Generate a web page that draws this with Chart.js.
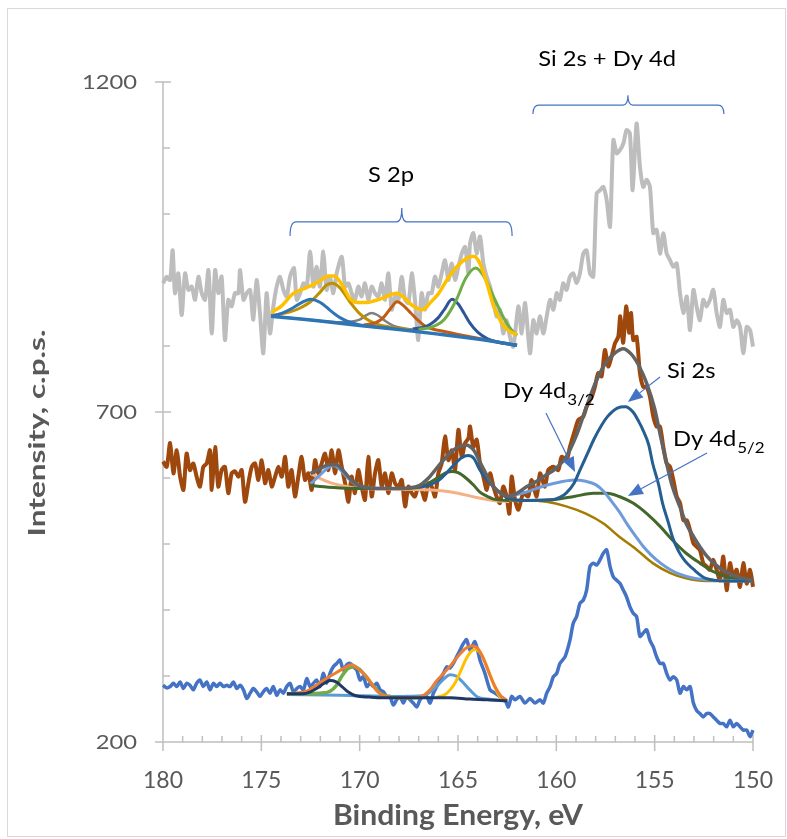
<!DOCTYPE html>
<html>
<head>
<meta charset="utf-8">
<script src="https://cdn.jsdelivr.net/npm/chart.js@4.4.0/dist/chart.umd.min.js"></script>
<style>
  html, body { margin: 0; padding: 0; background: #fff; }
  canvas { display: block; }
</style>
</head>
<body>
<canvas id="xps" width="787" height="839"></canvas>
<script>
// axis ticks
const energyTicks = [180, 175, 170, 165, 160, 155, 150];
const intensityTicks = [200, 700, 1200];

// measured spectra: [binding energy eV, intensity c.p.s.]
const greySpectrum = [
  [180.00,895],[179.81,905],[179.64,900],[179.51,945],[179.39,880],[179.22,910],[179.05,847],[178.88,910],
  [178.71,885],[178.54,890],[178.37,870],[178.20,905],[178.03,880],[177.86,870],[177.69,915],[177.52,819],
  [177.35,915],[177.19,880],[177.02,905],[176.85,809],[176.68,870],[176.51,860],[176.34,880],[176.17,880],
  [176.08,915],[175.91,870],[175.74,880],[175.57,885],[175.41,840],[175.24,900],[175.07,850],[174.90,789],
  [174.73,880],[174.56,819],[174.39,860],[174.22,890],[174.05,905],[173.88,885],[173.71,875],[173.54,905],
  [173.34,918],[173.20,870],[173.03,880],[172.86,895],[172.69,890],[172.52,943],[172.35,890],[172.19,920],
  [172.02,890],[171.85,943],[171.68,885],[171.51,905],[171.34,880],[171.17,910],[170.91,935],[170.74,890],
  [170.57,895],[170.41,880],[170.24,870],[170.07,890],[169.90,875],[169.73,895],[169.56,870],[169.39,890],
  [169.22,880],[169.05,875],[168.88,895],[168.71,870],[168.54,910],[168.37,855],[168.20,875],[168.03,870],
  [167.86,905],[167.69,870],[167.52,865],[167.35,910],[167.19,870],[167.02,809],[166.85,880],[166.68,855],
  [166.51,880],[166.34,880],[166.17,905],[166.00,890],[165.83,910],[165.66,930],[165.49,900],[165.32,925],
  [165.15,900],[164.98,920],[164.81,940],[164.64,950],[164.47,910],[164.39,955],[164.22,971],[164.05,940],
  [163.88,966],[163.71,925],[163.54,905],[163.37,890],[163.20,870],[163.04,845],[162.87,855],[162.70,819],
  [162.53,839],[162.36,814],[162.19,799],[161.93,860],[161.76,819],[161.59,865],[161.34,789],[161.17,839],
  [161.00,819],[160.83,845],[160.66,819],[160.49,845],[160.32,870],[160.15,855],[159.98,880],[159.82,870],
  [159.65,895],[159.48,885],[159.31,905],[159.14,910],[158.97,895],[158.80,910],[158.63,940],[158.46,945],
  [158.29,910],[158.12,905],[157.95,1031],[157.78,1036],[157.61,1041],[157.44,1021],[157.27,981],[157.10,1112],
  [156.93,1092],[156.76,1097],[156.59,1107],[156.43,1127],[156.26,1122],[156.12,1036],[155.92,1137],[155.75,1072],
  [155.58,1041],[155.41,1052],[155.24,1041],[155.07,971],[154.90,976],[154.73,940],[154.56,971],[154.39,940],
  [154.22,930],[154.05,920],[153.88,925],[153.71,880],[153.54,850],[153.37,875],[153.20,824],[153.03,885],
  [152.87,860],[152.70,839],[152.53,870],[152.36,860],[152.19,870],[152.02,885],[151.85,850],[151.68,829],
  [151.51,870],[151.34,850],[151.17,855],[151.00,829],[150.83,839],[150.66,829],[150.49,789],[150.32,829],
  [150.15,824],[150.00,799]
];

const brownSpectrum = [
  [180.00,625],[179.81,617],[179.64,653],[179.47,607],[179.30,642],[179.13,602],[178.96,582],[178.80,637],
  [178.63,612],[178.46,622],[178.29,602],[178.12,587],[177.95,617],[177.78,622],[177.61,642],[177.52,582],
  [177.35,647],[177.19,587],[177.02,612],[176.85,617],[176.68,577],[176.51,607],[176.34,610],[176.17,602],
  [176.00,612],[175.83,564],[175.66,592],[175.49,617],[175.32,622],[175.15,597],[174.98,627],[174.81,592],
  [174.64,612],[174.47,587],[174.30,602],[174.13,617],[173.96,602],[173.79,632],[173.63,587],[173.46,612],
  [173.29,572],[173.12,602],[172.95,632],[172.78,597],[172.61,607],[172.44,582],[172.27,627],[172.10,607],
  [171.93,622],[171.76,637],[171.59,612],[171.42,642],[171.25,607],[171.08,642],[170.91,617],[170.74,592],
  [170.57,564],[170.41,602],[170.24,577],[170.07,612],[169.90,587],[169.73,567],[169.56,632],[169.39,572],
  [169.22,607],[169.05,627],[168.88,587],[168.71,607],[168.54,577],[168.37,607],[168.20,592],[168.03,587],
  [167.86,597],[167.69,557],[167.52,587],[167.35,577],[167.19,572],[167.02,587],[166.85,582],[166.68,567],
  [166.51,592],[166.34,587],[166.17,572],[166.00,607],[165.83,622],[165.66,663],[165.49,627],[165.32,642],
  [165.15,612],[164.98,673],[164.81,632],[164.64,653],[164.47,660],[164.39,678],[164.22,647],[164.05,658],
  [163.88,622],[163.71,602],[163.54,582],[163.37,607],[163.20,587],[163.04,572],[162.87,562],[162.70,587],
  [162.53,572],[162.39,546],[162.27,602],[162.10,567],[161.93,552],[161.68,577],[161.43,572],[161.26,597],
  [161.00,572],[160.83,607],[160.58,587],[160.41,612],[160.15,617],[159.90,612],[159.73,632],[159.48,627],
  [159.31,647],[159.05,673],[158.88,688],[158.63,693],[158.46,708],[158.20,723],[158.04,738],[157.87,759],
  [157.70,754],[157.53,794],[157.36,769],[157.19,784],[157.02,804],[156.85,814],[156.75,845],[156.60,805],
  [156.45,860],[156.30,820],[156.20,850],[156.09,809],[155.92,814],[155.75,759],[155.58,738],[155.41,738],
  [155.24,723],[155.07,693],[154.90,678],[154.73,678],[154.56,647],[154.39,622],[154.22,617],[154.05,597],
  [153.88,572],[153.71,562],[153.54,536],[153.37,536],[153.20,521],[153.03,501],[152.87,496],[152.70,491],
  [152.53,471],[152.36,466],[152.19,461],[152.02,476],[151.85,461],[151.68,445],[151.51,481],[151.34,430],
  [151.17,471],[151.00,450],[150.83,461],[150.66,435],[150.49,471],[150.32,440],[150.15,461],[150.00,435]
];

const blueSpectrum = [
  [180.00,286],[179.81,282],[179.64,284],[179.47,289],[179.30,284],[179.13,291],[178.96,281],[178.80,289],
  [178.63,286],[178.46,279],[178.29,289],[178.12,294],[177.95,284],[177.78,291],[177.61,279],[177.44,289],
  [177.27,284],[177.10,289],[176.93,284],[176.76,286],[176.59,284],[176.42,291],[176.25,281],[176.08,286],
  [175.91,279],[175.74,266],[175.57,274],[175.41,281],[175.24,276],[175.07,269],[174.90,276],[174.73,281],
  [174.56,274],[174.39,284],[174.22,271],[174.05,279],[173.88,274],[173.71,284],[173.54,289],[173.37,276],
  [173.20,281],[173.03,284],[172.86,279],[172.69,296],[172.52,284],[172.35,289],[172.19,294],[172.02,284],
  [171.85,304],[171.68,289],[171.51,304],[171.34,314],[171.17,319],[171.00,324],[170.83,309],[170.66,317],
  [170.49,319],[170.32,314],[170.15,309],[169.98,294],[169.81,299],[169.64,284],[169.47,289],[169.30,284],
  [169.13,289],[168.96,279],[168.79,276],[168.63,269],[168.46,269],[168.29,256],[168.12,264],[167.95,269],
  [167.78,259],[167.61,269],[167.44,264],[167.27,259],[167.10,253],[166.93,264],[166.76,269],[166.59,269],
  [166.42,259],[166.25,274],[166.08,284],[165.91,294],[165.74,304],[165.57,314],[165.41,312],[165.24,319],
  [165.07,329],[164.90,339],[164.73,349],[164.56,355],[164.39,339],[164.14,352],[163.88,324],[163.63,304],
  [163.37,279],[163.12,274],[162.87,269],[162.61,264],[162.44,253],[162.27,269],[162.10,264],[161.85,269],
  [161.59,259],[161.34,266],[161.09,259],[160.83,264],[160.66,259],[160.49,274],[160.32,284],[160.15,299],
  [159.98,304],[159.82,319],[159.56,329],[159.31,354],[159.14,380],[158.97,390],[158.80,410],[158.63,415],
  [158.46,430],[158.29,466],[158.12,471],[157.95,468],[157.78,476],[157.61,486],[157.44,491],[157.27,466],
  [157.10,450],[156.93,445],[156.76,440],[156.59,430],[156.43,420],[156.26,405],[156.09,395],[155.92,390],
  [155.75,360],[155.58,365],[155.41,370],[155.24,354],[155.07,344],[154.90,329],[154.73,319],[154.56,319],
  [154.39,304],[154.22,294],[154.05,299],[153.88,294],[153.71,274],[153.54,284],[153.37,279],[153.20,284],
  [153.03,259],[152.87,248],[152.70,243],[152.53,238],[152.36,243],[152.19,243],[152.02,238],[151.85,233],
  [151.68,228],[151.51,228],[151.34,223],[151.17,233],[151.00,223],[150.83,228],[150.66,223],[150.49,218],
  [150.32,218],[150.15,208],[150.00,218]
];

// fitted components, upper (S 2p on grey spectrum)
const topBackground = [[174.5,845],[173,841],[172,838],[170,831],[168,825],[166,818],[164.4,812],[163,806],[162,801]];
const topPeak1 = [[174.5,845],[174,849],[173.5,856],[173,865],[172.5,871],[172,866],[171.5,854],[171,843],[170.5,836],[170,832],[169.5,830],[168.5,827]];
const topPeak2 = [[174.5,846],[173.5,852],[173,858],[172.5,867],[172,882],[171.7,892],[171.4,895],[171,888],[170.5,867],[170,849],[169.5,838],[169,832],[168.5,829],[167.5,825]];
const topPeak3 = [[174.5,846],[172,838],[171,836],[170.4,837],[170,840],[169.7,846],[169.4,850],[169.1,847],[168.7,838],[168.3,831],[167.8,827],[167,824]];
const topPeak4 = [[169.8,832],[169.2,835],[168.8,843],[168.4,858],[168.1,867],[167.8,862],[167.4,850],[167,838],[166.6,829],[165.7,822],[164.4,814],[163,806],[162,801]];
const topPeak5 = [[167.3,826],[166.8,828],[166.4,833],[166,843],[165.7,855],[165.3,871],[165,864],[164.7,850],[164.4,835],[164,821],[163.5,811],[163,806],[162,801]];
const topPeak6 = [[167,825],[166.3,829],[165.7,840],[165.1,869],[164.6,903],[164.1,918],[163.7,906],[163.2,875],[162.7,844],[162.3,825],[162,816]];
const topEnvelope = [[174.5,851],[174,860],[173.4,879],[172.9,886],[172.5,891],[172,899],[171.6,906],[171.3,906],[170.9,893],[170.5,872],[170.1,866],[169.6,866],[169.2,869],[168.8,873],[168.4,878],[168.1,880],[167.7,872],[167.3,861],[166.8,855],[166.4,866],[166,879],[165.5,903],[165,922],[164.6,932],[164.2,936],[163.9,926],[163.5,892],[163.2,861],[162.8,836],[162.5,825],[162,817]];

// fitted components, middle (brown spectrum)
const midBackground = [[172.5,607],[172,599],[171.5,593],[171,589],[170.5,586],[170,584],[168,583],[166,581],[165,577],[164,570],[163.2,566],[162.4,564]];
const midS2p = [[172.5,591],[172,605],[171.6,616],[171.3,619],[171,613],[170.6,600],[170.2,590],[169.8,586],[169.4,585],[168.5,584]];
const midDy52 = [[172.5,589],[172,587],[171,585],[170,584],[168,584],[167,586],[166.5,592],[166,601],[165.6,608],[165.3,610],[165,608],[164.6,600],[164.2,589],[163.9,579],[163.5,572],[163.2,568],[162.4,566],[161.5,566],[160.2,567],[159.1,572],[158.1,577],[157.4,577],[156.8,572],[156.1,562],[155.4,546],[154.7,526],[154.1,506],[153.4,486],[152.7,471],[152,458],[151.3,450],[150,446]];
const midSiBackground = [[162.4,566],[161.5,566],[160.5,564],[159.5,557],[158.5,546],[157.6,531],[156.8,511],[155.9,491],[155.1,471],[154.2,456],[153.4,448],[152.4,444],[151,444],[150,444]];
const midDy32 = [[162.4,572],[161.5,579],[160.5,589],[159.8,594],[159.1,597],[158.5,595],[158,590],[157.6,580],[157.2,565],[156.8,549],[156.4,530],[156,513],[155.6,497],[155.2,484],[154.7,471],[154.2,461],[153.8,455],[153,448],[152,445],[151,444],[150,444]];
const midSi2s = [[167,586],[166.5,589],[166,596],[165.6,607],[165.2,620],[164.8,631],[164.5,634],[164.2,630],[163.9,613],[163.5,596],[163.2,587],[162.7,574],[162.4,569],[161.5,566],[160.2,567],[159.8,571],[159.5,577],[159.1,592],[158.8,612],[158.4,638],[158.1,658],[157.7,680],[157.4,693],[156.9,706],[156.5,708],[156.1,700],[155.8,685],[155.6,673],[155.3,650],[155.1,622],[154.8,590],[154.6,562],[154.3,532],[154.1,511],[153.8,490],[153.5,476],[153,461],[152.4,448],[151.3,444],[150,444]];
const midEnvelope = [[172.5,607],[172,614],[171.6,620],[171.2,620],[170.8,610],[170.4,596],[170,588],[169.5,585],[168.5,584],[167.5,585],[167,588],[166.5,600],[166,618],[165.5,635],[165,647],[164.6,650],[164.2,642],[163.9,625],[163.5,602],[163.2,587],[162.8,576],[162.4,572],[162,577],[161.5,587],[161,595],[160.5,605],[160,615],[159.5,632],[159,663],[158.5,705],[158,745],[157.5,774],[157,790],[156.6,796],[156.2,788],[155.8,770],[155.4,743],[155,705],[154.7,663],[154.4,623],[154.1,587],[153.7,555],[153.4,531],[153,510],[152.7,496],[152.3,480],[152,471],[151.5,460],[151,453],[150.5,448],[150,445]];

// fitted components, lower (blue spectrum)
const botLightBlue = [[173.7,272],[171,271],[168,269],[166.8,270],[166.4,276],[166.1,284],[165.7,296],[165.4,302],[165.1,300],[164.8,292],[164.4,279],[164,268],[163.5,265],[162.5,262]];
const botGreen = [[173.7,273],[172,274],[171.5,277],[171.2,285],[170.9,300],[170.6,311],[170.3,314],[170,310],[169.7,300],[169.3,285],[169,275],[168.6,269],[168,267],[167,267]];
const botGold = [[166.1,268],[165.7,271],[165.4,279],[165.1,292],[164.9,305],[164.6,325],[164.3,338],[164.1,340],[163.8,332],[163.5,312],[163.2,288],[162.9,270],[162.5,263]];
const botOrange = [[173.7,273],[173,275],[172.7,277],[172.3,284],[172,290],[171.6,298],[171.2,305],[170.8,312],[170.4,317],[170,309],[169.6,297],[169.3,284],[169,274],[168.5,268],[167.5,267],[166.8,270],[166.4,280],[166.1,292],[165.7,305],[165.4,315],[165,330],[164.6,342],[164.3,346],[164,342],[163.7,326],[163.4,303],[163.1,283],[162.8,269],[162.5,263]];
const botNavy = [[173.7,273],[172.9,273],[172.5,276],[172.2,281],[171.8,289],[171.5,293],[171.2,291],[170.9,284],[170.6,276],[170.2,270],[169.5,268],[168.8,267],[167,267],[165.4,267],[164.4,265],[163.5,264],[162.5,262]];

const axisGrey = '#bfbfbf';
const labelGrey = '#595959';
const noteBlue = '#4472C4';

function line(points, color, width, fitted) {
  return {
    data: points.map(p => ({ x: p[0], y: p[1] })),
    borderColor: color,
    borderWidth: width,
    pointRadius: 0,
    fill: false,
    clip: false,
    tension: fitted ? 0.4 : 0.25,
    cubicInterpolationMode: fitted ? 'monotone' : 'default'
  };
}

// listed bottom-most first
const layers = [
  line(greySpectrum, '#bdbdbd', 4, false),
  line(brownSpectrum, '#9e480e', 4, false),
  line(blueSpectrum, '#4472c4', 3.5, false),

  line(topPeak3, '#808080', 2.5, true),
  line(topPeak2, '#bf9000', 3, true),
  line(topPeak1, '#2e75b6', 3, true),
  line(topPeak4, '#c55a11', 3, true),
  line(topPeak5, '#2f5597', 3, true),
  line(topPeak6, '#70ad47', 3, true),
  line(topEnvelope, '#ffc000', 3.5, true),
  line(topBackground, '#2e75b6', 3.5, true),

  line(midBackground, '#f4b183', 3, true),
  line(midS2p, '#6f9bdc', 3, true),
  line(midDy52, '#43682b', 3, true),
  line(midSiBackground, '#a67c00', 2.5, true),
  line(midDy32, '#6f9bdc', 3, true),
  line(midSi2s, '#255e91', 3, true),
  line(midEnvelope, '#636363', 3.5, true),

  line(botLightBlue, '#5b9bd5', 3, true),
  line(botGreen, '#70ad47', 3.5, true),
  line(botGold, '#ffc000', 3, true),
  line(botOrange, '#ed7d31', 3, true),
  line(botNavy, '#203864', 3, true)
];

function text(c, str, x, y, font, align, sx, color) {
  c.save();
  c.font = font;
  c.fillStyle = color || '#000';
  c.translate(x, y);
  c.scale(sx, 1);
  c.textAlign = align;
  c.textBaseline = 'alphabetic';
  c.fillText(str, 0, 0);
  c.restore();
}

function fitWidth(c, str, font, width) {
  c.save(); c.font = font; const w = c.measureText(str).width; c.restore();
  return width / w;
}

function brace(c, x1, x2, xm, yLine, yEnd, yTip) {
  c.beginPath();
  c.moveTo(x1, yEnd);
  c.quadraticCurveTo(x1, yLine, x1 + 6, yLine);
  c.lineTo(xm - 5, yLine);
  c.quadraticCurveTo(xm, yLine, xm, yTip);
  c.quadraticCurveTo(xm, yLine, xm + 5, yLine);
  c.lineTo(x2 - 6, yLine);
  c.quadraticCurveTo(x2, yLine, x2, yEnd);
  c.stroke();
}

function arrow(c, x1, y1, x2, y2) {
  const a = Math.atan2(y2 - y1, x2 - x1), L = 15, W = 6;
  const bx = x2 - L * Math.cos(a), by = y2 - L * Math.sin(a);
  c.beginPath(); c.moveTo(x1, y1); c.lineTo(bx, by); c.stroke();
  c.beginPath();
  c.moveTo(x2, y2);
  c.lineTo(bx + W * Math.sin(a), by - W * Math.cos(a));
  c.lineTo(bx - W * Math.sin(a), by + W * Math.cos(a));
  c.closePath(); c.fill();
}

const decor = {
  id: 'decor',
  beforeDraw(chart) {
    const c = chart.ctx;
    c.save();
    c.fillStyle = '#fff';
    c.fillRect(0, 0, chart.width, chart.height);
    c.strokeStyle = '#d9d9d9';
    c.lineWidth = 1;
    c.strokeRect(7.5, 8.5, 778, 828);
    c.restore();
  },
  beforeDatasetsDraw(chart) {
    const c = chart.ctx, xs = chart.scales.x, ys = chart.scales.y;
    const { left, right, top, bottom } = chart.chartArea;
    c.save();
    c.strokeStyle = axisGrey;
    c.lineWidth = 1.5;
    c.beginPath();
    c.moveTo(left, top); c.lineTo(left, bottom);
    c.moveTo(left - 8, bottom); c.lineTo(right, bottom);
    for (let v = ys.min; v <= ys.max; v += 100) {
      const py = ys.getPixelForValue(v);
      if (intensityTicks.includes(v)) { c.moveTo(left - 8, py); c.lineTo(left + 8, py); }
      else { c.moveTo(left, py); c.lineTo(left + 7, py); }
    }
    for (let e = xs.min; e <= xs.max; e += 1) {
      const px = xs.getPixelForValue(e);
      if (energyTicks.includes(e)) { c.moveTo(px, bottom - 7); c.lineTo(px, bottom + 9); }
      else { c.moveTo(px, bottom - 6); c.lineTo(px, bottom); }
    }
    c.stroke();
    c.restore();
  },
  afterDraw(chart) {
    const c = chart.ctx, xs = chart.scales.x, ys = chart.scales.y;
    const X = e => xs.getPixelForValue(e), Y = v => ys.getPixelForValue(v);
    const { left, right, bottom } = chart.chartArea;

    // tick labels
    energyTicks.forEach(e => text(c, String(e), X(e), bottom + 46, '23px Lato', 'center', 1, labelGrey));
    intensityTicks.forEach(v => text(c, String(v), left - 26, Y(v) + 7, '19px Lato', 'right', 1.25, labelGrey));

    // axis titles
    const xt = 'Binding Energy, eV', xf = 'bold 28px Lato';
    text(c, xt, (left + right) / 2, 825, xf, 'center', fitWidth(c, xt, xf, 250), labelGrey);
    const yt = 'Intensity, c.p.s.', yf = 'bold 23px Lato';
    c.save();
    c.translate(45, 433);
    c.rotate(-Math.PI / 2);
    text(c, yt, 0, 0, yf, 'center', fitWidth(c, yt, yf, 207), labelGrey);
    c.restore();

    // annotations
    const nf = '21px Lato', sf = '15px Lato';
    text(c, 'S 2p', X(168.41), Y(1049), nf, 'center', 1.13);
    text(c, 'Si 2s + Dy 4d', X(157.42), Y(1224), nf, 'center', 1.13);
    text(c, 'Si 2s', X(154.37), Y(751.5), nf, 'left', 1.13);
    [[162.71, 721, '3/2'], [154.07, 648.5, '5/2']].forEach(([e, v, sub]) => {
      const x0 = X(e), y0 = Y(v);
      c.save(); c.font = nf; const w = c.measureText('Dy 4d').width * 1.13; c.restore();
      text(c, 'Dy 4d', x0, y0, nf, 'left', 1.13);
      text(c, sub, x0 + w + 1, y0 + 7, sf, 'left', 1.13);
    });

    c.save();
    c.strokeStyle = noteBlue;
    c.fillStyle = noteBlue;
    c.lineWidth = 1.2;
    brace(c, X(173.54), X(162.25), X(167.86), Y(988), Y(966.7), Y(1009));
    brace(c, X(161.19), X(151.48), X(156.36), Y(1165), Y(1151.5), Y(1180));
    arrow(c, X(154.73), Y(753), X(156.36), Y(715));
    arrow(c, X(160.53), Y(698.5), X(159.05), Y(609));
    arrow(c, X(152.34), Y(637.9), X(156.36), Y(572.7));
    c.restore();
  }
};

new Chart(document.getElementById('xps').getContext('2d'), {
  type: 'line',
  data: { datasets: layers.slice().reverse() },
  options: {
    responsive: false,
    animation: false,
    layout: { padding: { left: 0, top: 82, right: 34, bottom: 0 } },
    plugins: { legend: { display: false }, tooltip: { enabled: false } },
    scales: {
      x: {
        type: 'linear',
        reverse: true,
        min: 150,
        max: 180,
        ticks: { display: false },
        afterBuildTicks: s => { s.ticks = energyTicks.map(v => ({ value: v })); },
        grid: { display: false, drawTicks: false },
        border: { display: false },
        afterFit: s => { s.height = 97; }
      },
      y: {
        min: 200,
        max: 1200,
        ticks: { display: false },
        afterBuildTicks: s => { s.ticks = intensityTicks.map(v => ({ value: v })); },
        grid: { display: false, drawTicks: false },
        border: { display: false },
        afterFit: s => { s.width = 163; }
      }
    }
  },
  plugins: [decor]
});
</script>
</body>
</html>
